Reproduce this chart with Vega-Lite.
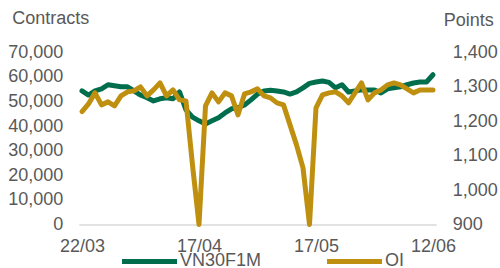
{
  "$schema": "https://vega.github.io/schema/vega-lite/v6.json",
  "width": 357.5,
  "height": 172,
  "autosize": {"type": "none"},
  "padding": {"left": 78.75, "top": 52.4, "right": 63.75, "bottom": 43.6},
  "config": {
    "view": {"stroke": null},
    "font": "Liberation Sans",
    "axis": {"labelFont": "Liberation Sans", "titleFont": "Liberation Sans", "labelFontSize": 18, "titleFontSize": 18, "labelColor": "#595959", "titleColor": "#595959", "titleFontWeight": "normal", "grid": false, "ticks": false},
    "legend": {"labelFont": "Liberation Sans"}
  },
  "data": {
    "values": [
      {"date": "22/03", "VN30F1M": 1288, "OI": 45900},
      {"date": "23/03", "VN30F1M": 1276, "OI": 49040},
      {"date": "26/03", "VN30F1M": 1288, "OI": 53520},
      {"date": "27/03", "VN30F1M": 1294, "OI": 48640},
      {"date": "28/03", "VN30F1M": 1306, "OI": 49860},
      {"date": "29/03", "VN30F1M": 1303, "OI": 48230},
      {"date": "30/03", "VN30F1M": 1300, "OI": 52300},
      {"date": "02/04", "VN30F1M": 1300, "OI": 53930},
      {"date": "03/04", "VN30F1M": 1288, "OI": 54330},
      {"date": "04/04", "VN30F1M": 1276, "OI": 55960},
      {"date": "05/04", "VN30F1M": 1268, "OI": 52300},
      {"date": "06/04", "VN30F1M": 1259, "OI": 54740},
      {"date": "09/04", "VN30F1M": 1265, "OI": 57590},
      {"date": "10/04", "VN30F1M": 1268, "OI": 52300},
      {"date": "11/04", "VN30F1M": 1265, "OI": 54740},
      {"date": "12/04", "VN30F1M": 1285, "OI": 50670},
      {"date": "13/04", "VN30F1M": 1233, "OI": 50260},
      {"date": "16/04", "VN30F1M": 1212, "OI": 24220},
      {"date": "17/04", "VN30F1M": 1201, "OI": 0},
      {"date": "18/04", "VN30F1M": 1192, "OI": 48230},
      {"date": "19/04", "VN30F1M": 1201, "OI": 53520},
      {"date": "20/04", "VN30F1M": 1210, "OI": 49860},
      {"date": "23/04", "VN30F1M": 1224, "OI": 53520},
      {"date": "26/04", "VN30F1M": 1236, "OI": 52300},
      {"date": "27/04", "VN30F1M": 1239, "OI": 44570},
      {"date": "02/05", "VN30F1M": 1247, "OI": 53110},
      {"date": "03/05", "VN30F1M": 1262, "OI": 53930},
      {"date": "04/05", "VN30F1M": 1279, "OI": 55150},
      {"date": "07/05", "VN30F1M": 1288, "OI": 52300},
      {"date": "08/05", "VN30F1M": 1290, "OI": 51490},
      {"date": "09/05", "VN30F1M": 1288, "OI": 49450},
      {"date": "10/05", "VN30F1M": 1285, "OI": 48640},
      {"date": "11/05", "VN30F1M": 1279, "OI": 40500},
      {"date": "14/05", "VN30F1M": 1285, "OI": 32360},
      {"date": "15/05", "VN30F1M": 1297, "OI": 23000},
      {"date": "16/05", "VN30F1M": 1310, "OI": 0},
      {"date": "17/05", "VN30F1M": 1314, "OI": 47420},
      {"date": "18/05", "VN30F1M": 1317, "OI": 52710},
      {"date": "21/05", "VN30F1M": 1313, "OI": 53520},
      {"date": "22/05", "VN30F1M": 1297, "OI": 53930},
      {"date": "23/05", "VN30F1M": 1306, "OI": 52300},
      {"date": "24/05", "VN30F1M": 1285, "OI": 49450},
      {"date": "25/05", "VN30F1M": 1288, "OI": 53520},
      {"date": "28/05", "VN30F1M": 1291, "OI": 57590},
      {"date": "29/05", "VN30F1M": 1291, "OI": 50670},
      {"date": "30/05", "VN30F1M": 1291, "OI": 53520},
      {"date": "31/05", "VN30F1M": 1282, "OI": 54740},
      {"date": "01/06", "VN30F1M": 1294, "OI": 56780},
      {"date": "04/06", "VN30F1M": 1297, "OI": 57590},
      {"date": "05/06", "VN30F1M": 1300, "OI": 56780},
      {"date": "06/06", "VN30F1M": 1306, "OI": 55150},
      {"date": "07/06", "VN30F1M": 1311, "OI": 53520},
      {"date": "08/06", "VN30F1M": 1314, "OI": 54740},
      {"date": "11/06", "VN30F1M": 1314, "OI": 54740},
      {"date": "12/06", "VN30F1M": 1335, "OI": 54740}
    ]
  },
  "encoding": {
    "x": {
      "field": "date",
      "type": "ordinal",
      "sort": null,
      "scale": {"type": "point", "padding": 0.5},
      "axis": {"title": null, "values": ["22/03", "17/04", "17/05", "12/06"], "labelAngle": 0, "domainColor": "#d9d9d9", "domainWidth": 1.5, "labelPadding": 13}
    }
  },
  "layer": [
    {
      "mark": {"type": "line", "strokeWidth": 5, "strokeJoin": "round", "strokeCap": "round"},
      "encoding": {
        "y": {
          "field": "VN30F1M",
          "type": "quantitative",
          "scale": {"domain": [900, 1400], "nice": false, "zero": false},
          "axis": {"orient": "right", "title": "Points", "titleAngle": 0, "titleAlign": "left", "titleBaseline": "middle", "titleX": 7, "titleY": -31.7, "values": [900, 1000, 1100, 1200, 1300, 1400], "format": ",d", "domain": false, "labelPadding": 16}
        },
        "color": {
          "datum": "VN30F1M",
          "type": "nominal",
          "scale": {"domain": ["VN30F1M", "OI"], "range": ["#006E4C", "#BF9010"]},
          "legend": {"title": null, "orient": "none", "direction": "horizontal", "legendX": 40.75, "legendY": 179, "symbolType": "stroke", "symbolSize": 3025, "symbolStrokeWidth": 5, "labelFontSize": 18, "labelColor": "#595959", "labelOffset": 0.5, "columnPadding": 55, "padding": 0}
        }
      }
    },
    {
      "mark": {"type": "line", "strokeWidth": 5, "strokeJoin": "round", "strokeCap": "round"},
      "encoding": {
        "y": {
          "field": "OI",
          "type": "quantitative",
          "scale": {"domain": [0, 70000], "nice": false},
          "axis": {"orient": "left", "title": "Contracts", "titleAngle": 0, "titleAlign": "left", "titleBaseline": "middle", "titleX": -67, "titleY": -34, "values": [0, 10000, 20000, 30000, 40000, 50000, 60000, 70000], "format": ",d", "domain": false, "labelPadding": 16}
        },
        "color": {"datum": "OI", "type": "nominal"}
      }
    }
  ],
  "resolve": {"scale": {"y": "independent"}}
}
